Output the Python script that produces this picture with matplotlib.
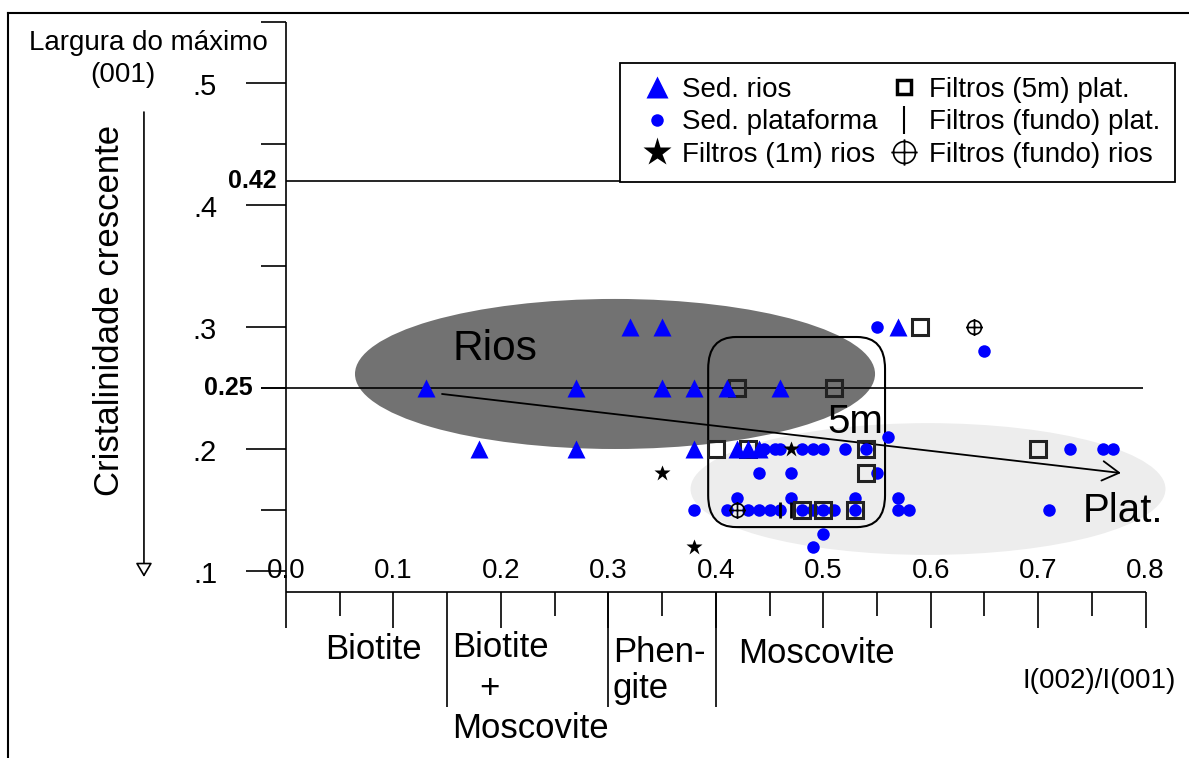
import matplotlib.pyplot as plt
from matplotlib.lines import Line2D
from matplotlib.patches import Ellipse, FancyBboxPatch
from matplotlib.path import Path

plt.rcParams["font.family"] = ["Liberation Sans", "DejaVu Sans"]

# Sed. rios (triangles)
rios_x = [0.13, 0.18, 0.27, 0.27, 0.32, 0.35, 0.35, 0.38, 0.38, 0.41, 0.42, 0.43, 0.44, 0.46, 0.57]
rios_y = [0.25, 0.20, 0.25, 0.20, 0.30, 0.30, 0.25, 0.25, 0.20, 0.25, 0.20, 0.20, 0.20, 0.25, 0.30]

# Sed. plataforma (dots)
plat_x = [0.55, 0.65, 0.56,
          0.445, 0.455, 0.46, 0.48, 0.49, 0.50, 0.52, 0.54, 0.73, 0.76, 0.77,
          0.44, 0.47, 0.55,
          0.42, 0.47, 0.53, 0.57,
          0.38, 0.41, 0.43, 0.44, 0.45, 0.46, 0.48, 0.49, 0.50, 0.51, 0.53, 0.57, 0.58, 0.71,
          0.50, 0.49]
plat_y = [0.30, 0.28, 0.21,
          0.20, 0.20, 0.20, 0.20, 0.20, 0.20, 0.20, 0.20, 0.20, 0.20, 0.20,
          0.18, 0.18, 0.18,
          0.16, 0.16, 0.16, 0.16,
          0.15, 0.15, 0.15, 0.15, 0.15, 0.15, 0.15, 0.15, 0.15, 0.15, 0.15, 0.15, 0.15, 0.15,
          0.13, 0.12]

# Filtros (1m) rios (stars)
f1m_x = [0.35, 0.38, 0.47]
f1m_y = [0.18, 0.12, 0.20]

# Filtros (5m) plat. (open squares)
f5m_x = [0.42, 0.51, 0.59, 0.40, 0.43, 0.54, 0.54, 0.48, 0.50, 0.53, 0.70]
f5m_y = [0.25, 0.25, 0.30, 0.20, 0.20, 0.20, 0.18, 0.15, 0.15, 0.15, 0.20]

# Filtros (fundo) plat. (bars)
fplat_x = [0.46, 0.47]
fplat_y = [0.15, 0.15]

# Filtros (fundo) rios (crosshairs)
frios_x = [0.42, 0.64]
frios_y = [0.15, 0.30]

x_ticks = [0.0, 0.1, 0.2, 0.3, 0.4, 0.5, 0.6, 0.7, 0.8]
x_tick_labels = ["0.0", "0.1", "0.2", "0.3", "0.4", "0.5", "0.6", "0.7", "0.8"]
x_minor = [0.05, 0.25, 0.35, 0.45, 0.55, 0.65, 0.75]
x_bounds = [0.15, 0.3, 0.4]
y_ticks = [0.1, 0.2, 0.3, 0.4, 0.5]
y_tick_labels = [".1", ".2", ".3", ".4", ".5"]
y_minor = [0.15, 0.25, 0.35, 0.45, 0.55]
y_marks = [0.42, 0.25]
y_mark_labels = ["0.42", "0.25"]

# axis geometry (data units)
X_AXIS_Y = 0.0828
MAJ_X, MIN_X, BND_X = 0.0295, 0.0197, 0.0943
MAJ_Y, MIN_Y = 0.0372, 0.0233

fig = plt.figure(figsize=(11.89, 7.58), dpi=100)
ax = fig.add_axes([0, 0, 1, 1])
ax.set_xlim(-0.26617, 0.84039)
ax.set_ylim(-0.05328, 0.56803)
ax.axis("off")

lk = dict(color="black", lw=1.2, solid_capstyle="butt")

# outer frame (left and top edges)
ax.plot([-0.2587, -0.2587], [0.5574, -0.06], color="black", lw=1.5)
ax.plot([-0.2587, 0.85], [0.5574, 0.5574], color="black", lw=1.5)

# vertical axis
ax.plot([0, 0], [0.55, X_AXIS_Y], **lk)
for v in y_ticks:
    ax.plot([-MAJ_Y, 0], [v, v], **lk)
for v in y_minor:
    ax.plot([-MIN_Y, 0], [v, v], **lk)
for v, lab in zip(y_ticks, y_tick_labels):
    ax.text(-0.0642, v - 0.0033, lab, ha="right", va="center", fontsize=21)

# reference levels
ax.plot([0, 0.8115], [y_marks[0], y_marks[0]], **lk)
ax.plot([-MIN_Y, 0.7976], [y_marks[1], y_marks[1]], **lk)
ax.text(-0.0084, y_marks[0], y_mark_labels[0], ha="right", va="center",
        fontsize=18, fontweight="bold")
ax.text(-0.0307, y_marks[1], y_mark_labels[1], ha="right", va="center",
        fontsize=18, fontweight="bold")

# horizontal axis
ax.plot([0, 0.8], [X_AXIS_Y, X_AXIS_Y], **lk)
for v in x_ticks:
    ax.plot([v, v], [X_AXIS_Y, X_AXIS_Y - MAJ_X], **lk)
for v in x_minor:
    ax.plot([v, v], [X_AXIS_Y, X_AXIS_Y - MIN_X], **lk)
for v in x_bounds:
    ax.plot([v, v], [X_AXIS_Y, X_AXIS_Y - BND_X], **lk)
for v, lab in zip(x_ticks, x_tick_labels):
    ax.text(v, 0.1, lab, ha="center", va="center", fontsize=20)

# mica fields under the axis
cat = dict(fontsize=25, va="baseline", ha="left")
ax.text(0.0363, 0.0279, "Biotite", **cat)
ax.text(0.1545, 0.0295, "Biotite", **cat)
ax.text(0.1889, 0.0033, "+", fontsize=25, ha="center", va="center")
ax.text(0.1545, -0.0369, "Moscovite", **cat)
ax.text(0.3043, 0.0254, "Phen-", **cat)
ax.text(0.3043, -0.0041, "gite", **cat)
ax.text(0.4207, 0.0246, "Moscovite", **cat)
ax.text(0.6850, 0.0041, "I(002)/I(001)", fontsize=20, va="baseline", ha="left")

# y title and direction arrow
ax.text(-0.1280, 0.5270, "Largura do máximo", ha="center", va="baseline", fontsize=20)
ax.text(-0.1522, 0.5008, "(001)", ha="center", va="baseline", fontsize=20)
ax.text(-0.1638, 0.3139, "Cristalinidade crescente", rotation=90,
        ha="center", va="center", fontsize=25)
ax.annotate("", xy=(-0.1322, 0.0951), xytext=(-0.1322, 0.4762),
            arrowprops=dict(arrowstyle="-|>,head_length=0.85,head_width=0.5",
                            lw=1.2, fc="white", ec="black", shrinkA=0, shrinkB=0))

# grouping fields
ax.add_patch(Ellipse((0.5975, 0.1672), 0.442, 0.108, fc="#ededed", ec="none", zorder=1))
ax.add_patch(Ellipse((0.3062, 0.2615), 0.484, 0.123, fc="#727272", ec="none", zorder=1.5))
ax.add_patch(FancyBboxPatch((0.3929, 0.136), 0.1646, 0.1558,
                            boxstyle="round,pad=0,rounding_size=0.026",
                            fc="none", ec="black", lw=1.5, zorder=2.5))
ax.text(0.1545, 0.2730, "Rios", fontsize=30.5, va="baseline", zorder=7)
ax.text(0.5035, 0.2131, "5m", fontsize=29, va="baseline", zorder=7)
ax.text(0.7417, 0.1402, "Plat.", fontsize=29, va="baseline", zorder=7)

# trend arrow from rivers to platform
ax.annotate("", xy=(0.7770, 0.1803), xytext=(0.1452, 0.2451),
            arrowprops=dict(arrowstyle="->,head_length=1.2,head_width=0.7",
                            lw=1.3, color="black", shrinkA=0, shrinkB=0), zorder=2)

crosshair = Path.make_compound_path(
    Path.unit_circle(),
    Path([(-1.2, 0), (1.2, 0), (0, -1.2), (0, 1.2)],
         [Path.MOVETO, Path.LINETO, Path.MOVETO, Path.LINETO]))

ax.plot(plat_x, plat_y, ls="none", marker="o", ms=9, color="#0000ff", mec="none", zorder=3)
ax.plot(f5m_x, f5m_y, ls="none", marker="s", ms=11, mfc="none", mec="#222222",
        mew=2.2, zorder=4)
ax.plot(rios_x, rios_y, ls="none", marker="^", ms=13, color="#0000ff", mec="none", zorder=5)
ax.plot(f1m_x, f1m_y, ls="none", marker="*", ms=12, color="black", mec="none", zorder=6)
ax.plot(fplat_x, fplat_y, ls="none", marker="|", ms=12, color="black", mew=2, zorder=6)
ax.plot(frios_x, frios_y, ls="none", marker=crosshair, ms=12, mfc="none", mec="black",
        mew=1.2, zorder=6)

handles = [
    Line2D([], [], ls="none", marker="^", ms=16, color="#0000ff", mec="none"),
    Line2D([], [], ls="none", marker="o", ms=9, color="#0000ff", mec="none"),
    Line2D([], [], ls="none", marker="*", ms=21, color="black", mec="none"),
    Line2D([], [], ls="none", marker="s", ms=10, mfc="none", mec="black", mew=2.5),
    Line2D([], [], ls="none", marker="|", ms=20, color="black", mew=1.5),
    Line2D([], [], ls="none", marker=crosshair, ms=19, mfc="none", mec="black", mew=1.2),
]
labels = ["Sed. rios", "Sed. plataforma", "Filtros (1m) rios",
          "Filtros (5m) plat.", "Filtros (fundo) plat.", "Filtros (fundo) rios"]
leg = ax.legend(handles, labels, ncol=2, loc="upper left",
                bbox_to_anchor=(620 / 1189, 1 - 63 / 758), bbox_transform=fig.transFigure,
                borderaxespad=0, fontsize=20, handlelength=1.65, handletextpad=0.1,
                columnspacing=0.1, labelspacing=0.23, borderpad=0.5,
                fancybox=False, framealpha=1, edgecolor="black")
leg.get_frame().set_linewidth(1.3)
leg.set_zorder(8)

fig.savefig("out.png", dpi=100)
